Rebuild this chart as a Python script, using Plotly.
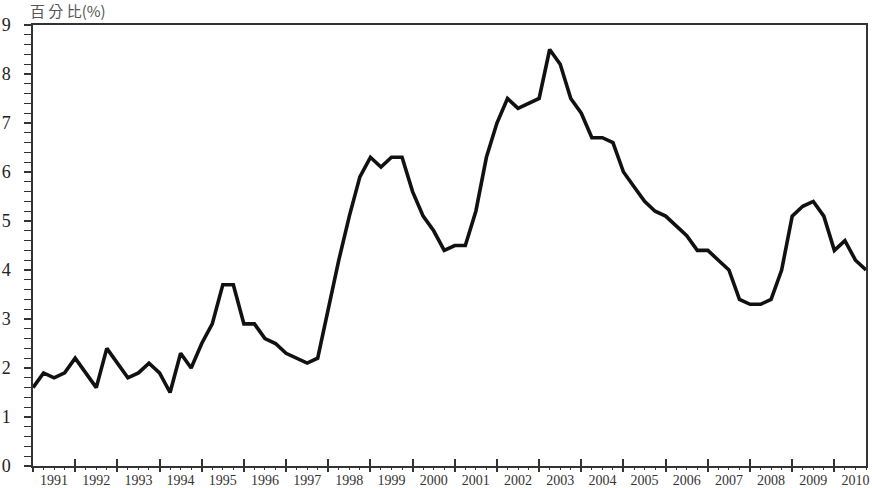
import plotly.graph_objects as go

# Quarterly values, 1991 Q1 .. 2010 Q4 (percent)
quarters_1991 = [1.6, 1.9, 1.8, 1.9]
quarters_1992 = [2.2, 1.9, 1.6, 2.4]
quarters_1993 = [2.1, 1.8, 1.9, 2.1]
quarters_1994 = [1.9, 1.5, 2.3, 2.0]
quarters_1995 = [2.5, 2.9, 3.7, 3.7]
quarters_1996 = [2.9, 2.9, 2.6, 2.5]
quarters_1997 = [2.3, 2.2, 2.1, 2.2]
quarters_1998 = [3.2, 4.2, 5.1, 5.9]
quarters_1999 = [6.3, 6.1, 6.3, 6.3]
quarters_2000 = [5.6, 5.1, 4.8, 4.4]
quarters_2001 = [4.5, 4.5, 5.2, 6.3]
quarters_2002 = [7.0, 7.5, 7.3, 7.4]
quarters_2003 = [7.5, 8.5, 8.2, 7.5]
quarters_2004 = [7.2, 6.7, 6.7, 6.6]
quarters_2005 = [6.0, 5.7, 5.4, 5.2]
quarters_2006 = [5.1, 4.9, 4.7, 4.4]
quarters_2007 = [4.4, 4.2, 4.0, 3.4]
quarters_2008 = [3.3, 3.3, 3.4, 4.0]
quarters_2009 = [5.1, 5.3, 5.4, 5.1]
quarters_2010 = [4.4, 4.6, 4.2, 4.0]

years = [str(y) for y in range(1991, 2011)]
values = (quarters_1991 + quarters_1992 + quarters_1993 + quarters_1994 + quarters_1995
          + quarters_1996 + quarters_1997 + quarters_1998 + quarters_1999 + quarters_2000
          + quarters_2001 + quarters_2002 + quarters_2003 + quarters_2004 + quarters_2005
          + quarters_2006 + quarters_2007 + quarters_2008 + quarters_2009 + quarters_2010)
x_idx = list(range(len(values)))
n = len(values)

fig = go.Figure()
fig.add_trace(go.Scatter(x=x_idx, y=values, mode="lines",
                         line=dict(color="#111111", width=3.6), showlegend=False,
                         hoverinfo="skip"))

axis_col = "#333333"
serif = "Liberation Serif"
xr = [0, n - 1]

fig.update_layout(
    width=872, height=488,
    margin=dict(l=33, r=6, t=25, b=22, autoexpand=False),
    paper_bgcolor="white", plot_bgcolor="white",
    xaxis=dict(range=xr, tickmode="array", automargin=False,
               tickvals=[4 * k + 2 for k in range(len(years))], ticktext=years,
               ticks="", showgrid=False, zeroline=False,
               showline=True, linecolor=axis_col, linewidth=1.5, mirror=True,
               tickfont=dict(family=serif, size=14, color="#333333"),
               ticklabelstandoff=0),
    xaxis2=dict(range=xr, overlaying="x", tickmode="array", automargin=False,
                tickvals=[4 * k for k in range(len(years) + 1)], showticklabels=False,
                ticks="outside", ticklen=5, tickwidth=1.5, tickcolor=axis_col,
                minor=dict(dtick=1, tick0=0, ticks="outside", ticklen=3,
                           tickwidth=1.3, tickcolor=axis_col),
                showgrid=False, zeroline=False, showline=False, anchor="y"),
    xaxis3=dict(range=xr, overlaying="x", tickmode="array", automargin=False,
                tickvals=[4 * k for k in range(len(years) + 1)], showticklabels=False,
                ticks="inside", ticklen=7, tickwidth=1.5, tickcolor=axis_col,
                showgrid=False, zeroline=False, showline=False, anchor="y"),
    yaxis=dict(range=[0, 9], dtick=1, tick0=0, ticks="outside", ticklen=7,
               tickwidth=1.5, tickcolor=axis_col, automargin=False,
               minor=dict(dtick=0.2, ticks="outside", ticklen=7, tickwidth=1.3,
                          tickcolor=axis_col, showgrid=False),
               showgrid=False, zeroline=False,
               showline=True, linecolor=axis_col, linewidth=1.5, mirror=True,
               tickfont=dict(family=serif, size=18, color="#222222"),
               ticklabelstandoff=10),
)

# invisible traces to activate overlay axes
fig.add_trace(go.Scatter(x=[0], y=[0], xaxis="x2", mode="markers",
                         marker=dict(opacity=0), showlegend=False, hoverinfo="skip"))
fig.add_trace(go.Scatter(x=[0], y=[0], xaxis="x3", mode="markers",
                         marker=dict(opacity=0), showlegend=False, hoverinfo="skip"))

fig.add_annotation(text="百 分 比(%)", xref="paper", yref="paper", x=0, y=1,
                   xshift=-5, yshift=2, xanchor="left", yanchor="bottom", showarrow=False,
                   font=dict(family="Noto Sans CJK TC", size=15, color="#555555"))

fig.write_html("out.html", config={"displayModeBar": False},
               post_script="document.body.style.margin='0';document.body.style.overflow='hidden';")
